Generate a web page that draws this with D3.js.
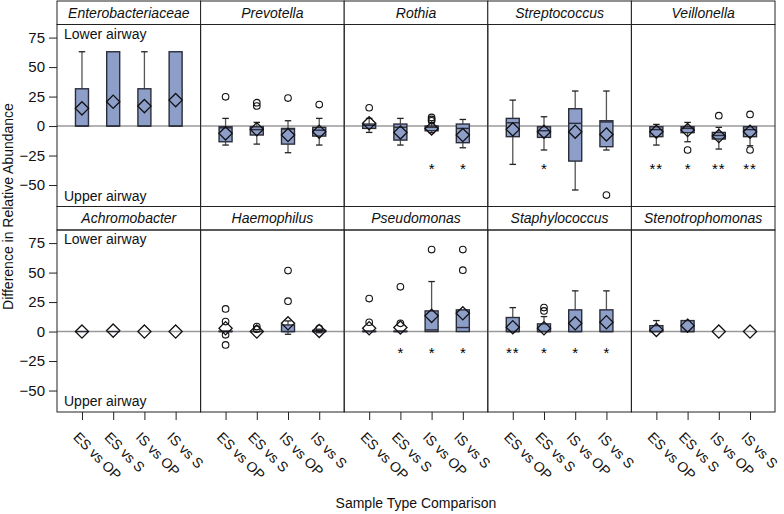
<!DOCTYPE html>
<html>
<head>
<meta charset="utf-8">
<script src="https://cdn.jsdelivr.net/npm/d3@7"></script>
<style>
  html, body { margin: 0; padding: 0; background: #fff; }
  svg { display: block; font-family: "Liberation Sans", Arial, Helvetica, sans-serif; }
</style>
</head>
<body>
<svg id="chart" width="784" height="514"></svg>
<script>
// ---------------- data ----------------
const genera = ["Enterobacteriaceae","Prevotella","Rothia","Streptococcus","Veillonella",
                "Achromobacter","Haemophilus","Pseudomonas","Staphylococcus","Stenotrophomonas"];
const comparisons = ["ES vs OP","ES vs S","IS vs OP","IS vs S"];
const yTicks = [-50, -25, 0, 25, 50, 75];

// box statistics per genus (rows) and comparison (columns); null = no box drawn
const q1Values = [
  [0, 0, 0, 0],
  [-13.3, -7.6, -15.3, -8.5],
  [-2, -11.9, -4, -14.1],
  [-9, -9.6, -29.7, -17.5],
  [-9, -5.6, -11, -9],
  [0, 0, null, null],
  [0, 0, 0, 0],
  [0, 0, 0, 0],
  [0, 0, 0, 0],
  [0, 0, null, null]
];
const medianValues = [
  [0, 0, 0, 0],
  [-1.5, -3, -2.5, -3.5],
  [0.5, -1, -1, -2],
  [2.8, -4, 2.3, 3.5],
  [-3, -2, -8, -3],
  [0, 0, null, null],
  [0, 0, 0, 0],
  [0, 0, 1.4, 3.4],
  [0, 0, 0, 0],
  [0, 0, null, null]
];
const q3Values = [
  [31.6, 63, 31.6, 63],
  [-0.6, -0.6, -2, -1.1],
  [1.7, 1.7, 0, 1.7],
  [6.5, -0.6, 14.7, 4.5],
  [-0.6, -0.6, -5.4, -0.6],
  [0, 0, null, null],
  [0.4, 0, 5.6, 1],
  [0.4, 0.4, 17.5, 18.4],
  [11.9, 6.5, 18.4, 18.4],
  [5, 9.3, null, null]
];
const lowWhisker = [
  [0, 0, 0, 0],
  [-16.1, -15.3, -22.6, -16.1],
  [-5.4, -16.1, -5.6, -18.4],
  [-32.5, -20.3, -54.2, -20.3],
  [-16.1, -13.3, -19.5, -16.7],
  [0, 0, null, null],
  [0, 0, -2.3, -1],
  [0, 0, 0, 0],
  [0, 0, 0, 0],
  [0, 0, null, null]
];
const highWhisker = [
  [63, 63, 63, 63],
  [6.5, 3.1, 4.5, 6.5],
  [6.5, 6.5, 2.8, 5.6],
  [22, 7.9, 29.7, 29.7],
  [1.4, 3.1, -1.1, -0.6],
  [0, 0, null, null],
  [0.4, 0, 9, 2],
  [0.4, 0.4, 42.4, 18.4],
  [20.3, 12.7, 34.5, 34.5],
  [9.3, 9.3, null, null]
];
const meanValues = [
  [15, 20.6, 16.9, 22],
  [-6.2, -2.7, -7.6, -4.8],
  [2.3, -5.4, -2, -7.6],
  [-2.8, -4.8, -4.8, -7.1],
  [-4.8, -3.4, -8.5, -4.8],
  [0, 0.8, 0, 0],
  [2.8, 0, 7, 0.5],
  [2.8, 3.4, 13.3, 15.5],
  [3.7, 2.8, 7, 7.9],
  [1.4, 5, 0, 0]
];
const outlierValues = [
  [[], [], [], []],
  [[24.8], [19.8, 17], [23.7], [18.2]],
  [[15.5], [], [7.3, 5.6, 4.5], []],
  [[], [], [], [-58.5]],
  [[], [-20.3], [8.8], [9.9, -20.3]],
  [[], [], [], []],
  [[19.2, 8.5, -2.8, -11.3], [4.2, 2], [51.7, 25.8], [2.8]],
  [[28, 7.9], [37.9, 7], [69.5], [69.5, 52]],
  [[], [20.3, 17.5], [], []],
  [[], [], [], []]
];
const starLabels = [
  ["", "", "", ""],
  ["", "", "", ""],
  ["", "", "*", "*"],
  ["", "*", "", ""],
  ["**", "*", "**", "**"],
  ["", "", "", ""],
  ["", "", "", ""],
  ["", "*", "*", "*"],
  ["**", "*", "*", "*"],
  ["", "", "", ""]
];
const starLevel = [-33, -33, -33, -33, -33, -15, -15, -15, -15, -15];

// ---------------- layout ----------------
const svg = d3.select("#chart");
const leftX = 57, rightX = 775, topY = 1, rowH = 205.5, stripH = 23.5;
const nCols = 5;
const panelW = (rightX - leftX) / nCols;
const panelH = rowH - stripH;

const x = d3.scalePoint().domain(comparisons).range([0, panelW]).padding(0.8);
const y = d3.scaleLinear().domain([-68.2, 86.1]).range([panelH, 0]);

const boxW = 13, capW = 6.5, dHalf = 6.6;
const boxFill = "#8d9ec9", boxStroke = "#2b2d3a", whiskColor = "#555";

genera.forEach((g, gi) => {
  const col = gi % nCols, row = Math.floor(gi / nCols);
  const px = leftX + col * panelW;
  const sy = topY + row * rowH;
  const py = sy + stripH;

  // strip
  svg.append("rect").attr("x", px).attr("y", sy).attr("width", panelW).attr("height", stripH)
    .attr("fill", "#fff").attr("stroke", "#222").attr("stroke-width", 1);
  svg.append("text").attr("x", px + panelW / 2).attr("y", sy + stripH / 2 + 5)
    .attr("text-anchor", "middle").attr("font-size", 14).attr("font-style", "italic")
    .attr("fill", "#111").text(g);

  const pg = svg.append("g").attr("transform", `translate(${px},${py})`);

  // zero reference line
  pg.append("line").attr("x1", 0).attr("x2", panelW).attr("y1", y(0)).attr("y2", y(0))
    .attr("stroke", "#9a9a9a").attr("stroke-width", 1.5);

  if (col === 0) {
    pg.append("text").attr("x", 7).attr("y", 14.3).attr("font-size", 14).attr("fill", "#111").text("Lower airway");
    pg.append("text").attr("x", 7).attr("y", panelH - 6).attr("font-size", 14).attr("fill", "#111").text("Upper airway");
  }

  comparisons.forEach((c, ci) => {
    const cx = x(c);
    const q1 = q1Values[gi][ci], q3 = q3Values[gi][ci], med = medianValues[gi][ci];
    const lo = lowWhisker[gi][ci], hi = highWhisker[gi][ci];
    if (q1 !== null) {
      if (hi > q3) {
        pg.append("line").attr("x1", cx).attr("x2", cx).attr("y1", y(q3)).attr("y2", y(hi))
          .attr("stroke", whiskColor).attr("stroke-width", 1.3);
        pg.append("line").attr("x1", cx - capW / 2).attr("x2", cx + capW / 2).attr("y1", y(hi)).attr("y2", y(hi))
          .attr("stroke", "#222").attr("stroke-width", 1.3);
      }
      if (lo < q1) {
        pg.append("line").attr("x1", cx).attr("x2", cx).attr("y1", y(q1)).attr("y2", y(lo))
          .attr("stroke", whiskColor).attr("stroke-width", 1.3);
        pg.append("line").attr("x1", cx - capW / 2).attr("x2", cx + capW / 2).attr("y1", y(lo)).attr("y2", y(lo))
          .attr("stroke", "#222").attr("stroke-width", 1.3);
      }
      pg.append("rect").attr("x", cx - boxW / 2).attr("y", y(q3)).attr("width", boxW)
        .attr("height", Math.max(0, y(q1) - y(q3)))
        .attr("fill", boxFill).attr("stroke", boxStroke).attr("stroke-width", 1.4);
      pg.append("line").attr("x1", cx - boxW / 2).attr("x2", cx + boxW / 2).attr("y1", y(med)).attr("y2", y(med))
        .attr("stroke", boxStroke).attr("stroke-width", 1.4);
    }
    outlierValues[gi][ci].forEach(v => {
      pg.append("circle").attr("cx", cx).attr("cy", y(v)).attr("r", 3.3)
        .attr("fill", "none").attr("stroke", "#111").attr("stroke-width", 1.1);
    });
    const my = y(meanValues[gi][ci]);
    pg.append("path")
      .attr("d", `M${cx},${my - dHalf}L${cx + dHalf},${my}L${cx},${my + dHalf}L${cx - dHalf},${my}Z`)
      .attr("fill", "none").attr("stroke", "#111").attr("stroke-width", 1.3);
    const s = starLabels[gi][ci];
    if (s) {
      pg.append("text").attr("x", cx).attr("y", y(starLevel[gi])).attr("dy", "0.6em")
        .attr("text-anchor", "middle").attr("font-size", 15).attr("letter-spacing", s.length > 1 ? 1 : 0)
        .attr("fill", "#000").text(s);
    }
  });

  pg.append("rect").attr("x", 0).attr("y", 0).attr("width", panelW).attr("height", panelH)
    .attr("fill", "none").attr("stroke", "#222").attr("stroke-width", 1);

  if (col === 0) {
    const ay = pg.append("g").call(d3.axisLeft(y).tickValues(yTicks).tickSize(8).tickPadding(4));
    ay.select(".domain").remove();
    ay.selectAll("line").attr("stroke", "#222");
    ay.selectAll("text").attr("font-size", 15).attr("font-family", "Liberation Sans, Arial, sans-serif").attr("fill", "#111");
  }
  if (row === 1) {
    const ax = pg.append("g").attr("transform", `translate(0,${panelH})`)
      .call(d3.axisBottom(x).tickSize(8));
    ax.select(".domain").remove();
    ax.selectAll("line").attr("stroke", "#222");
    ax.selectAll("text").attr("x", 0).attr("y", 0).attr("dy", 0)
      .attr("transform", "translate(-10,26) rotate(45)")
      .attr("text-anchor", "start").attr("font-size", 14)
      .attr("font-family", "Liberation Sans, Arial, sans-serif").attr("fill", "#111");
  }
});

svg.append("text").attr("transform", `translate(13,${topY + rowH}) rotate(-90)`)
  .attr("text-anchor", "middle").attr("font-size", 14).attr("fill", "#111")
  .text("Difference in Relative Abundance");
svg.append("text").attr("x", (leftX + rightX) / 2).attr("y", 508)
  .attr("text-anchor", "middle").attr("font-size", 14).attr("fill", "#111")
  .text("Sample Type Comparison");
</script>
</body>
</html>
